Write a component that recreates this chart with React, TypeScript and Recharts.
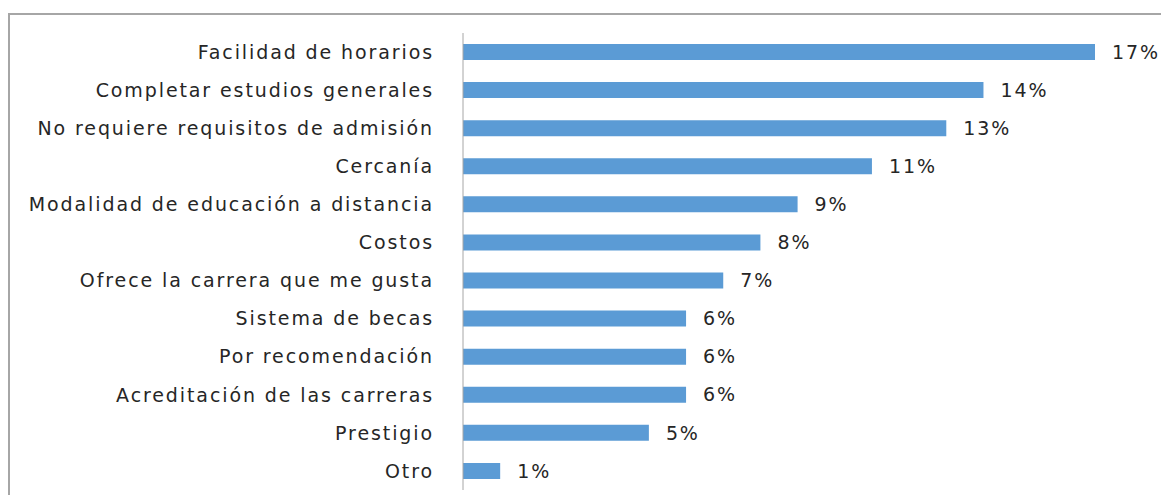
import { BarChart, Bar, XAxis, YAxis, LabelList } from "recharts";

// Motivos de elección (porcentaje de respuestas)
const categories = [
  "Facilidad de horarios",
  "Completar estudios generales",
  "No requiere requisitos de admisión",
  "Cercanía",
  "Modalidad de educación a distancia",
  "Costos",
  "Ofrece la carrera que me gusta",
  "Sistema de becas",
  "Por recomendación",
  "Acreditación de las carreras",
  "Prestigio",
  "Otro",
];
const percents = [17, 14, 13, 11, 9, 8, 7, 6, 6, 6, 5, 1];

const textStyle = {
  fill: "#262626",
  fontSize: 19,
  fontFamily: "'DejaVu Sans', sans-serif",
  letterSpacing: 1.9,
};

export default function App() {
  const data = categories.map((name, i) => ({ name, value: percents[i] }));

  return (
    <div style={{ paddingTop: 5 }}>
      <div
        style={{
          borderTop: "2px solid #a6a6a6",
          borderLeft: "2px solid #a6a6a6",
          width: 1157,
          height: 480,
          background: "#fff",
        }}
      >
        <BarChart
          width={1155}
          height={478}
          data={data}
          layout="vertical"
          margin={{ top: 18, right: 70, bottom: 3, left: 0 }}
        >
          <XAxis type="number" domain={[0, 17]} hide />
          <YAxis
            type="category"
            dataKey="name"
            width={453}
            axisLine={{ stroke: "#a6a6a6" }}
            tickLine={false}
            tickSize={6}
            tickMargin={23}
            interval={0}
            tick={textStyle}
          />
          <Bar
            dataKey="value"
            fill="#5b9bd5"
            barSize={16}
            isAnimationActive={false}
          >
            <LabelList
              dataKey="value"
              position="right"
              offset={17}
              formatter={(v: number) => `${v}%`}
              style={textStyle}
            />
          </Bar>
        </BarChart>
      </div>
    </div>
  );
}
